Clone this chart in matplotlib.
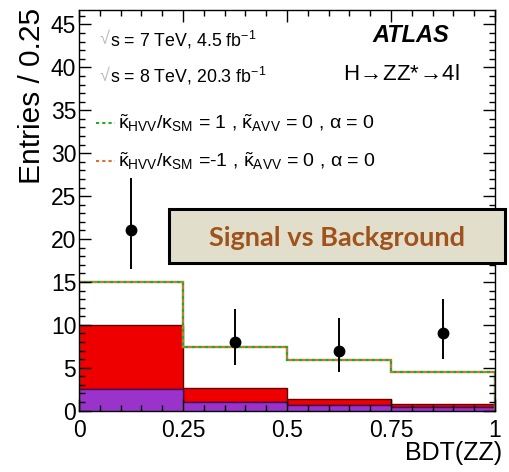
import numpy as np
import matplotlib
matplotlib.use('Agg')
import matplotlib.pyplot as plt
from matplotlib.patches import Rectangle
from matplotlib.ticker import MultipleLocator

# bin edges of BDT(ZZ)
edges = [0.0, 0.25, 0.5, 0.75, 1.0]
bkg_purple = [2.5, 1.0, 0.6, 0.45]
bkg_red = [7.5, 1.6, 0.8, 0.35]
total = [15.0, 7.4, 5.9, 4.5]

# data points
data_x = [0.125, 0.375, 0.625, 0.875]
data_y = [21, 8, 7, 9]
err_lo = [4.5, 2.7, 2.5, 2.95]
err_hi = [6.1, 3.9, 3.8, 4.05]

plt.rcParams['font.family'] = ['Liberation Sans', 'DejaVu Sans']
plt.rcParams['mathtext.fontset'] = 'custom'
plt.rcParams['mathtext.rm'] = 'Liberation Sans'
plt.rcParams['mathtext.it'] = 'Liberation Sans'

fig = plt.figure(figsize=(5.10, 4.72), dpi=100)
ax = fig.add_axes([0.155, 0.13, 0.8156, 0.849])

purple = np.array(bkg_purple)
red_top = purple + np.array(bkg_red)
ax.stairs(red_top, edges, baseline=purple, fill=True, color='#ee0000')
ax.stairs(red_top, edges, baseline=purple, color='#660000', lw=1)
ax.stairs(purple, edges, fill=True, color='#9933cc')
ax.stairs(purple, edges, color='#440055', lw=1)

# total prediction line (overlapping hypotheses)
ax.stairs(total, edges, color='#33cccc', lw=1.6)
ax.stairs(total, edges, color='#22aa22', lw=1.6, ls=(0, (1.5, 1.5)))
ax.stairs(total, edges, color='#e07020', lw=1.6, ls=(1.5, (1.5, 1.5)))

ax.errorbar(data_x, data_y, yerr=[err_lo, err_hi], fmt='o', color='black',
            ms=7.5, lw=1.4, capsize=0)

ax.set_xlim(0, 1)
ax.set_ylim(0, 46.7)
ax.xaxis.set_major_locator(MultipleLocator(0.25))
ax.xaxis.set_minor_locator(MultipleLocator(0.05))
ax.yaxis.set_major_locator(MultipleLocator(5))
ax.yaxis.set_minor_locator(MultipleLocator(1))
ax.set_xticks([0, 0.25, 0.5, 0.75, 1])
ax.set_xticklabels(['0', '0.25', '0.5', '0.75', '1'])
ax.tick_params(which='both', direction='in', top=True, right=True, labelsize=16.5)
ax.tick_params(which='major', length=8.5, width=1)
ax.tick_params(which='minor', length=4.3, width=1)
ax.tick_params(axis='x', pad=6)
ax.tick_params(axis='y', pad=2)
for s in ax.spines.values():
    s.set_linewidth(1)

fig.text(32 / 510, 1 - 8 / 472, 'Entries / 0.25', fontsize=21.5, rotation=90,
         ha='center', va='top')
fig.text(502 / 510, 1 - 453 / 472, 'BDT(ZZ)', fontsize=18, ha='right', va='center')

# energy labels
ax.text(0.05, 0.925, '\u221a', transform=ax.transAxes, fontsize=13, color='#bbbbbb', va='center')
ax.text(0.075, 0.925, r's = 7 TeV, 4.5 fb$^{-1}$', transform=ax.transAxes, fontsize=12.8, va='center')
ax.text(0.05, 0.835, '\u221a', transform=ax.transAxes, fontsize=13, color='#bbbbbb', va='center')
ax.text(0.075, 0.835, r's = 8 TeV, 20.3 fb$^{-1}$', transform=ax.transAxes, fontsize=12.8, va='center')

ax.text(0.89, 0.935, 'ATLAS', transform=ax.transAxes, fontsize=17, fontweight='bold',
        fontstyle='italic', ha='right', va='center')
ax.text(0.915, 0.84, r'H$\!\rightarrow\!$ZZ*$\!\rightarrow\!$4l', transform=ax.transAxes,
        fontsize=16, ha='right', va='center')

# legend entries
ax.plot([0.041, 0.087], [0.718, 0.718], transform=ax.transAxes, color='#22aa22', lw=1.5, ls=(0, (1.5, 1.5)))
ax.text(0.094, 0.718, r'$\tilde{\kappa}_{\mathrm{HVV}}/\kappa_{\mathrm{SM}}$ = 1 , $\tilde{\kappa}_{\mathrm{AVV}}$ = 0 , $\alpha$ = 0',
        transform=ax.transAxes, fontsize=14, va='center')
ax.plot([0.041, 0.087], [0.622, 0.622], transform=ax.transAxes, color='#e07020', lw=1.5, ls=(0, (1.5, 1.5)))
ax.text(0.094, 0.622, r'$\tilde{\kappa}_{\mathrm{HVV}}/\kappa_{\mathrm{SM}}$ =-1 , $\tilde{\kappa}_{\mathrm{AVV}}$ = 0 , $\alpha$ = 0',
        transform=ax.transAxes, fontsize=14, va='center')

# overlay title box
box = Rectangle((169 / 510, 1 - 263 / 472), 336 / 510, 54 / 472, transform=fig.transFigure,
                facecolor='#e1dfcc', edgecolor='black', lw=2.2, zorder=10)
fig.patches.append(box)
fig.text(337 / 510, 1 - 238 / 472, 'Signal vs Background', family=['Lato', 'DejaVu Sans'],
         fontweight='bold', fontsize=19.5, color='#a0521c', ha='center', va='center', zorder=11)

fig.savefig('out.png', dpi=100)
